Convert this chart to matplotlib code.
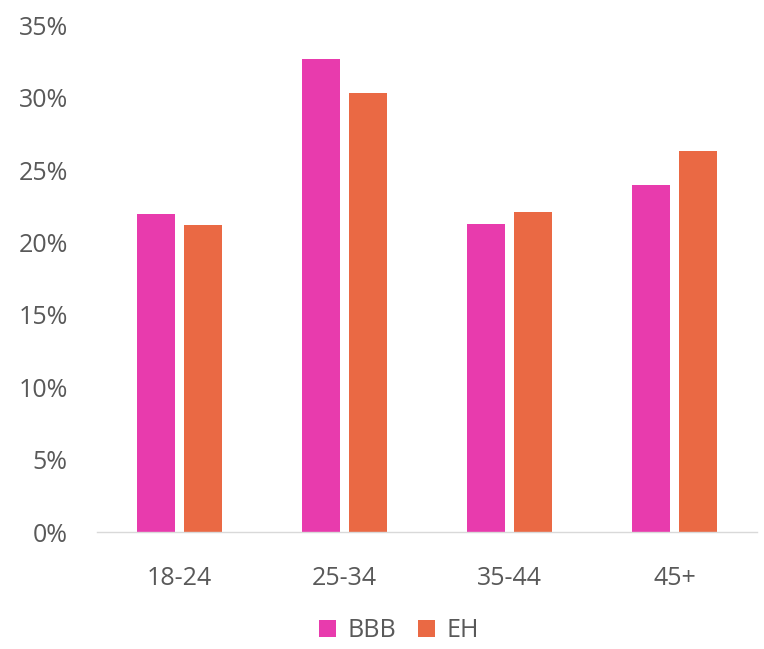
import matplotlib
matplotlib.use("Agg")
import matplotlib.pyplot as plt
import numpy as np
from matplotlib.ticker import PercentFormatter

plt.rcParams.update({
    "font.family": ["Open Sans", "DejaVu Sans"],
})

categories = ["18-24", "25-34", "35-44", "45+"]
bbb = [0.220, 0.327, 0.213, 0.240]
eh = [0.212, 0.303, 0.221, 0.263]

C_BBB = "#E83BAD"
C_EH = "#EA6944"
GREY = "#595959"

fig = plt.figure(figsize=(7.64, 6.49), dpi=100)
ax = fig.add_axes([0.127, 0.180, 0.864, 0.781])

x = np.arange(len(categories))
w = 0.23
off = 0.144
ax.bar(x - off, bbb, w, color=C_BBB, label="BBB")
ax.bar(x + off, eh, w, color=C_EH, label="EH")

ax.set_xlim(-0.5, 3.5)
ax.set_ylim(0, 0.35)
ax.set_yticks(np.arange(0, 0.351, 0.05))
ax.yaxis.set_major_formatter(PercentFormatter(1.0, decimals=0))
ax.set_xticks(x)
ax.set_xticklabels(categories)
ax.tick_params(axis="both", length=0, labelsize=18, colors=GREY)
ax.tick_params(axis="x", pad=24)
ax.tick_params(axis="y", pad=21)

for s in ["top", "right", "left"]:
    ax.spines[s].set_visible(False)
ax.spines["bottom"].set_color("#D9D9D9")
ax.spines["bottom"].set_linewidth(1.0)

fig.legend(loc="lower center", bbox_to_anchor=(0.522, -0.026), ncol=2, frameon=False,
           fontsize=18, labelcolor=GREY, handlelength=0.7, handleheight=0.7,
           handletextpad=0.45, columnspacing=0.85)

fig.savefig("out.png", dpi=100)
